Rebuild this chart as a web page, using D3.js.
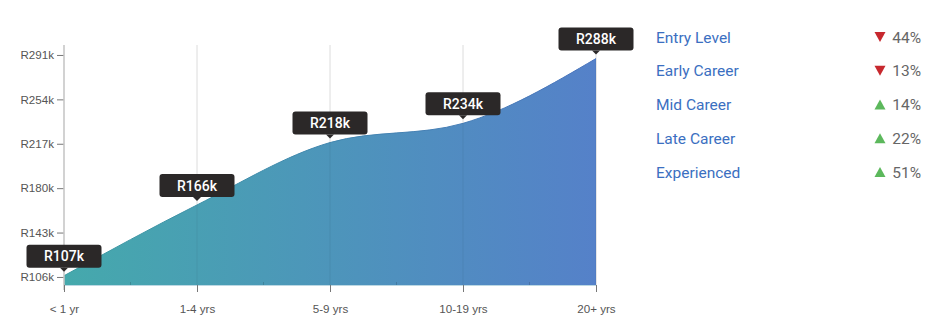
<!DOCTYPE html>
<html>
<head>
<meta charset="utf-8">
<script src="https://cdn.jsdelivr.net/npm/d3@7"></script>
<style>
  html, body { margin: 0; padding: 0; background: #fff; }
  svg { display: block; font-family: Roboto, "Noto Sans", sans-serif; }
</style>
</head>
<body>
<svg id="chart" width="929" height="330"></svg>
<script>
// Salary by experience (thousands of rand)
const categories = ["< 1 yr", "1-4 yrs", "5-9 yrs", "10-19 yrs", "20+ yrs"];
const salaries = [107, 166, 218, 234, 288];
const yTicks = [106, 143, 180, 217, 254, 291];
const yDomain = [99.3, 299.3];

// Career stage changes
const stages = ["Entry Level", "Early Career", "Mid Career", "Late Career", "Experienced"];
const changes = [-44, -13, 14, 22, 51];

const svg = d3.select("#chart");
const plotLeft = 64, plotRight = 596, plotTop = 45, plotBottom = 285;

const x = d3.scalePoint().domain(categories).range([plotLeft, plotRight]);
const y = d3.scaleLinear().domain(yDomain).range([plotBottom, plotTop]);

const defs = svg.append("defs");
const grad = defs.append("linearGradient")
  .attr("id", "areaFill")
  .attr("gradientUnits", "userSpaceOnUse")
  .attr("x1", plotLeft).attr("x2", plotRight).attr("y1", 0).attr("y2", 0);
grad.append("stop").attr("offset", "0%").attr("stop-color", "#45a9ac");
grad.append("stop").attr("offset", "100%").attr("stop-color", "#5581c9");

const lineGrad = defs.append("linearGradient")
  .attr("id", "lineStroke")
  .attr("gradientUnits", "userSpaceOnUse")
  .attr("x1", plotLeft).attr("x2", plotRight).attr("y1", 0).attr("y2", 0);
lineGrad.append("stop").attr("offset", "0%").attr("stop-color", "#3a9aa0");
lineGrad.append("stop").attr("offset", "100%").attr("stop-color", "#4a73bd");

// vertical grid lines
svg.append("g").selectAll("line")
  .data(categories)
  .join("line")
  .attr("x1", d => x(d)).attr("x2", d => x(d))
  .attr("y1", plotTop).attr("y2", plotBottom)
  .attr("stroke", "#dcdcdc").attr("stroke-width", 1);

const pts = categories.map((c, i) => [c, salaries[i]]);

const area = d3.area()
  .x(d => x(d[0]))
  .y0(plotBottom)
  .y1(d => y(d[1]))
  .curve(d3.curveMonotoneX);

svg.append("path")
  .datum(pts)
  .attr("d", area)
  .attr("fill", "url(#areaFill)");

svg.append("path")
  .datum(pts)
  .attr("d", d3.line().x(d => x(d[0])).y(d => y(d[1])).curve(d3.curveMonotoneX))
  .attr("fill", "none")
  .attr("stroke", "url(#lineStroke)")
  .attr("stroke-width", 1);

// faint grid lines over the fill
svg.append("g").selectAll("line")
  .data(categories)
  .join("line")
  .attr("x1", d => x(d)).attr("x2", d => x(d))
  .attr("y1", (d, i) => y(salaries[i])).attr("y2", plotBottom)
  .attr("stroke", "#000").attr("stroke-opacity", 0.06);

// y axis
const yAxis = d3.axisLeft(y).tickValues(yTicks).tickSize(7).tickPadding(3)
  .tickFormat(d => "R" + d + "k");
const gy = svg.append("g").attr("transform", `translate(${plotLeft},0)`).call(yAxis);
gy.select(".domain").remove();
gy.selectAll(".tick line").attr("stroke", "#777");
gy.selectAll(".tick text").attr("fill", "#555").style("font-size", "11.6px");
svg.append("line")
  .attr("x1", plotLeft).attr("x2", plotLeft).attr("y1", plotTop).attr("y2", plotBottom + 5)
  .attr("stroke", "#c8c8c8").attr("stroke-width", 1.5);

// x axis
const xAxis = d3.axisBottom(x).tickSize(7).tickPadding(13);
const gx = svg.append("g").attr("transform", `translate(0,${plotBottom})`).call(xAxis);
gx.select(".domain").attr("stroke", "#3f8fb0").attr("stroke-opacity", 0.35).attr("d", `M${plotLeft},0.5H${plotRight}`);
gx.selectAll(".tick line").attr("stroke", "#777");
gx.selectAll(".tick text").attr("fill", "#555").style("font-size", "11.6px");

// minor ticks between categories
const mids = d3.pairs(categories).map(([a, b]) => (x(a) + x(b)) / 2);
svg.append("g").selectAll("line")
  .data(mids)
  .join("line")
  .attr("x1", d => d).attr("x2", d => d)
  .attr("y1", plotBottom - 3).attr("y2", plotBottom)
  .attr("stroke", "#000").attr("stroke-opacity", 0.15);

// value callouts
const tipW = 75, tipH = 23, gap = 8;
const tips = svg.append("g").selectAll("g")
  .data(pts)
  .join("g")
  .attr("transform", d => `translate(${x(d[0])},${y(d[1])})`);
tips.append("rect")
  .attr("x", -tipW / 2).attr("y", -gap - tipH)
  .attr("width", tipW).attr("height", tipH)
  .attr("rx", 3)
  .attr("fill", "#2b2828");
tips.append("path")
  .attr("d", `M-4,${-gap}L4,${-gap}L0,${-gap + 4}Z`)
  .attr("fill", "#2b2828");
tips.append("text")
  .attr("y", -gap - tipH / 2)
  .attr("dy", "0.36em")
  .attr("text-anchor", "middle")
  .attr("fill", "#fff")
  .style("font-size", "14px")
  .style("font-weight", "500")
  .text(d => "R" + d[1] + "k");

// legend of career stages
const rowY = d3.scalePoint().domain(stages).range([37, 172]);
const rows = svg.append("g").selectAll("g")
  .data(stages.map((s, i) => [s, changes[i]]))
  .join("g")
  .attr("transform", d => `translate(0,${rowY(d[0])})`);
rows.append("text")
  .attr("x", 656).attr("dy", "0.36em")
  .attr("fill", "#3b6fc1")
  .style("font-size", "15.5px")
  .text(d => d[0]);
rows.append("text")
  .attr("x", 921).attr("dy", "0.36em")
  .attr("text-anchor", "end")
  .attr("fill", "#666")
  .style("font-size", "15.5px")
  .text(d => Math.abs(d[1]) + "%");
rows.append("path")
  .attr("d", d => d[1] < 0
    ? "M874.5,-5L885.5,-5L880,5Z"
    : "M874.5,5L885.5,5L880,-5Z")
  .attr("fill", d => d[1] < 0 ? "#c7282e" : "#5cb85c");
</script>
</body>
</html>
